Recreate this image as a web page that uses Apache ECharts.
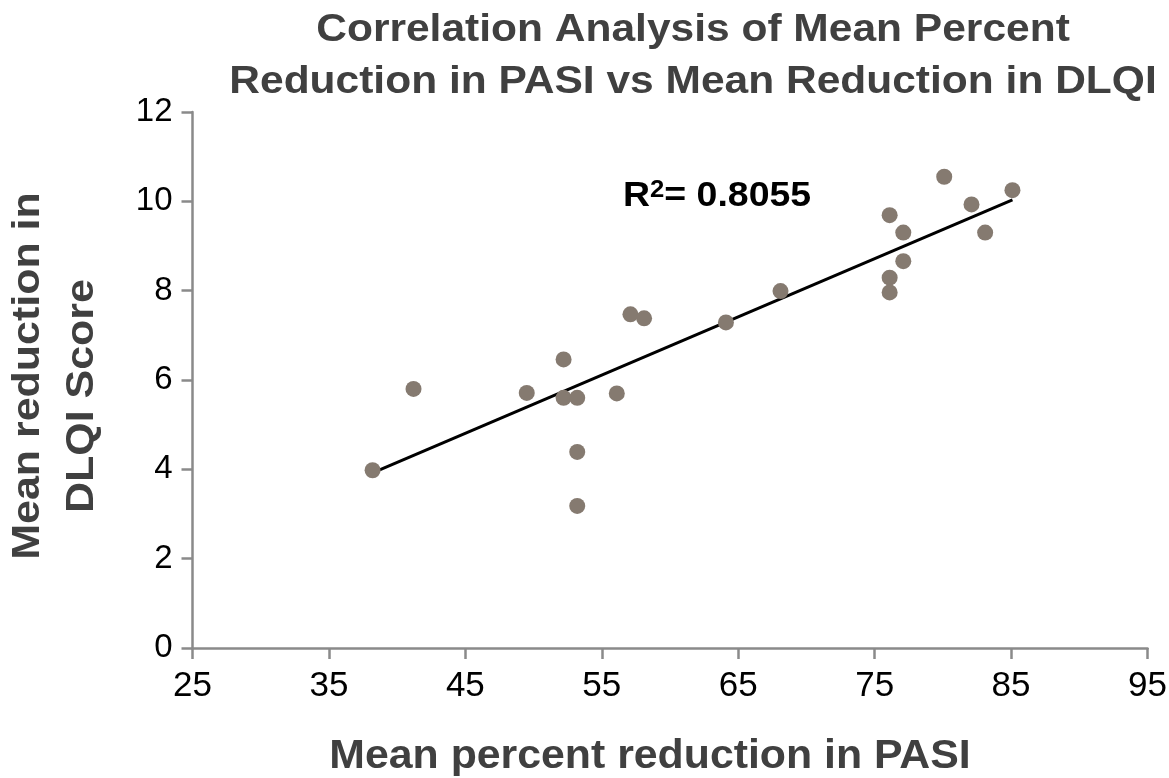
<!DOCTYPE html>
<html>
<head>
<meta charset="utf-8">
<script src="https://cdn.jsdelivr.net/npm/echarts@6/dist/echarts.min.js"></script>
<style>
  html, body { margin: 0; padding: 0; background: #fff; }
  #chart { width: 1169px; height: 778px; }
</style>
</head>
<body>
<div id="chart"></div>
<script>
// Mean percent reduction in PASI (x) vs mean reduction in DLQI score (y)
const pasiReduction = [38.2, 41.2, 49.5, 52.2, 52.2, 53.2, 53.2, 53.2, 56.1, 57.1, 58.1,
                       64.1, 68.1, 76.1, 77.1, 77.1, 76.1, 76.1, 80.1, 82.1, 83.1, 85.1];
const dlqiReduction = [3.98, 5.80, 5.71, 6.46, 5.60, 5.60, 4.39, 3.18, 5.70, 7.47, 7.38,
                       7.29, 7.99, 9.69, 9.30, 8.66, 8.29, 7.96, 10.55, 9.93, 9.30, 10.25];
// Linear trendline end points
const trendX = [38.2, 85.1];
const trendY = [3.92, 10.03];
const xTicks = [25, 35, 45, 55, 65, 75, 85, 95];
const yTicks = [0, 2, 4, 6, 8, 10, 12];
const rSquared = '0.8055';
const titleLines = ['Correlation Analysis of Mean Percent', 'Reduction in PASI vs Mean Reduction in DLQI'];
const xName = 'Mean percent reduction in PASI';
const yNameLines = ['Mean reduction in', 'DLQI Score'];

const points = pasiReduction.map((x, i) => [x, dlqiReduction[i]]);
const trend = trendX.map((x, i) => [x, trendY[i]]);

const axisGray = '#8a8a8a';
const titleGray = '#404040';
const fontFamily = '"Liberation Sans", Arial, sans-serif';
const boldFont = size => 'bold ' + size + 'px ' + fontFamily;

// Centered heading text, slightly widened along its reading direction
function label(text, x, y, size, stretch, rotation) {
  return {
    type: 'text',
    x: x, y: y,
    rotation: rotation || 0,
    scaleX: stretch,
    style: {
      x: 0, y: 0,
      text: text,
      font: boldFont(size),
      fill: titleGray,
      align: 'center',
      verticalAlign: 'middle'
    },
    silent: true
  };
}

const chart = echarts.init(document.getElementById('chart'));
chart.setOption({
  animation: false,
  textStyle: { fontFamily: fontFamily },
  grid: { left: 192.5, right: 21.5, top: 112, bottom: 130, outerBoundsMode: 'none', containLabel: false },
  xAxis: {
    type: 'value',
    min: xTicks[0], max: xTicks[xTicks.length - 1], interval: 10,
    axisLine: { show: true, lineStyle: { color: axisGray, width: 2.5 } },
    axisTick: { show: true, length: 11, lineStyle: { color: axisGray, width: 2.5 } },
    axisLabel: { fontSize: 35, color: '#000', margin: 21, fontFamily: fontFamily },
    splitLine: { show: false }
  },
  yAxis: {
    type: 'value',
    min: yTicks[0], max: yTicks[yTicks.length - 1], interval: 2,
    axisLine: { show: true, lineStyle: { color: axisGray, width: 2.5 } },
    axisTick: { show: true, length: 11, lineStyle: { color: axisGray, width: 2.5 } },
    axisLabel: { fontSize: 33, color: '#000', margin: 20, fontFamily: fontFamily },
    splitLine: { show: false }
  },
  series: [
    {
      type: 'line',
      data: trend,
      symbol: 'none',
      lineStyle: { color: '#000', width: 3 },
      z: 2
    },
    {
      type: 'scatter',
      data: points,
      symbolSize: 16,
      itemStyle: { color: '#857a70', opacity: 1 },
      z: 3
    }
  ],
  graphic: [
    label(titleLines[0], 693, 30, 39, 1.09),
    label(titleLines[1], 693, 82, 39, 1.09),
    label(xName, 650, 757, 40, 1.07),
    label(yNameLines[0], 29, 376, 38, 1.13, Math.PI / 2),
    label(yNameLines[1], 83, 396, 38, 1.13, Math.PI / 2),
    {
      type: 'text',
      x: 623, y: 196,
      scaleX: 1.07,
      style: {
        x: 0, y: 0,
        text: '{b|R}{s|2}{b|= ' + rSquared + '}',
        verticalAlign: 'middle',
        rich: {
          b: { font: boldFont(35), fill: '#000' },
          s: { font: boldFont(24), fill: '#000', verticalAlign: 'top', padding: [0, 0, 12, 0] }
        }
      },
      silent: true
    }
  ]
});
</script>
</body>
</html>
